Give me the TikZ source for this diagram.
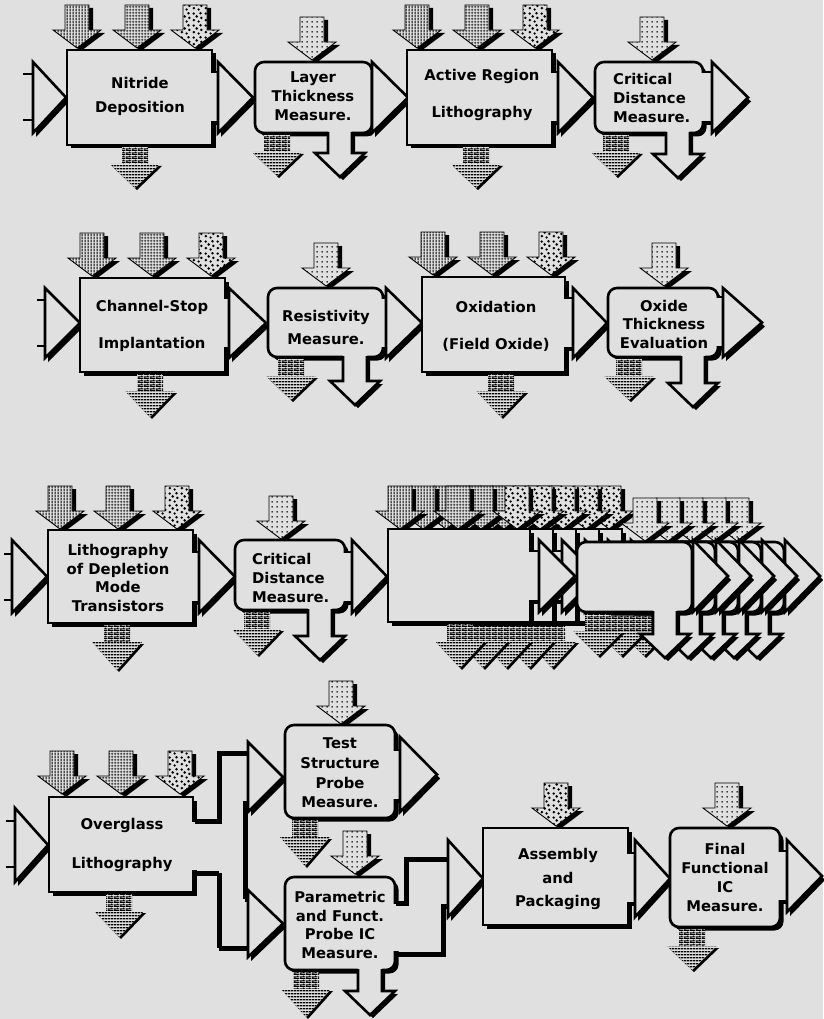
\documentclass[tikz,border=0pt]{standalone}
\usepackage{fontspec}
\newfontfamily\chic[BoldFont={DejaVu Sans Bold}]{DejaVu Sans}
\usetikzlibrary{patterns}
\definecolor{bgc}{RGB}{224,224,224}
\pgfdeclarepatternformonly{vl}{\pgfqpoint{0pt}{0pt}}{\pgfqpoint{3pt}{3pt}}{\pgfqpoint{3pt}{3pt}}{%
 \pgfsetlinewidth{1.4pt}\pgfpathmoveto{\pgfqpoint{1.5pt}{0pt}}\pgfpathlineto{\pgfqpoint{1.5pt}{3pt}}\pgfusepath{stroke}}
\pgfdeclarepatternformonly{gr}{\pgfqpoint{0pt}{0pt}}{\pgfqpoint{3pt}{3pt}}{\pgfqpoint{3pt}{3pt}}{%
 \pgfsetlinewidth{0.9pt}\pgfpathmoveto{\pgfqpoint{1.5pt}{0pt}}\pgfpathlineto{\pgfqpoint{1.5pt}{3pt}}%
 \pgfpathmoveto{\pgfqpoint{0pt}{1.5pt}}\pgfpathlineto{\pgfqpoint{3pt}{1.5pt}}\pgfusepath{stroke}}
\pgfdeclarepatternformonly{rd}{\pgfqpoint{0pt}{0pt}}{\pgfqpoint{12pt}{12pt}}{\pgfqpoint{12pt}{12pt}}{%
 \pgfpathcircle{\pgfqpoint{2pt}{3pt}}{1.5pt}\pgfpathcircle{\pgfqpoint{7pt}{1.6pt}}{1.4pt}%
 \pgfpathcircle{\pgfqpoint{5pt}{7pt}}{1.5pt}\pgfpathcircle{\pgfqpoint{10pt}{5.5pt}}{1.4pt}%
 \pgfpathcircle{\pgfqpoint{1.8pt}{10pt}}{1.4pt}\pgfpathcircle{\pgfqpoint{9pt}{10.4pt}}{1.5pt}\pgfusepath{fill}}
\pgfdeclarepatternformonly{sd}{\pgfqpoint{0pt}{0pt}}{\pgfqpoint{5pt}{5pt}}{\pgfqpoint{5pt}{5pt}}{%
 \pgfpathcircle{\pgfqpoint{2.5pt}{2.5pt}}{0.9pt}\pgfusepath{fill}}
\pgfdeclarepatternformonly{hl}{\pgfqpoint{0pt}{0pt}}{\pgfqpoint{3pt}{3pt}}{\pgfqpoint{3pt}{3pt}}{%
 \pgfsetlinewidth{1.7pt}\pgfpathmoveto{\pgfqpoint{0pt}{1.5pt}}\pgfpathlineto{\pgfqpoint{3pt}{1.5pt}}\pgfusepath{stroke}}
\pgfdeclarepatternformonly{sb}{\pgfqpoint{0pt}{0pt}}{\pgfqpoint{6pt}{4pt}}{\pgfqpoint{6pt}{4pt}}{%
 \pgfsetlinewidth{1.1pt}%
 \pgfpathmoveto{\pgfqpoint{0pt}{0.5pt}}\pgfpathlineto{\pgfqpoint{6pt}{0.5pt}}%
 \pgfpathmoveto{\pgfqpoint{0pt}{2.5pt}}\pgfpathlineto{\pgfqpoint{6pt}{2.5pt}}%
 \pgfpathmoveto{\pgfqpoint{1pt}{0.5pt}}\pgfpathlineto{\pgfqpoint{1pt}{2.5pt}}%
 \pgfpathmoveto{\pgfqpoint{4pt}{2.5pt}}\pgfpathlineto{\pgfqpoint{4pt}{4pt}}\pgfusepath{stroke}}
\tikzset{
 wall/.style={line width=2.8pt, line cap=rect},
 outl/.style={line width=2.6pt, line join=miter},
 lbl/.style={font={\chic\bfseries\fontsize{14.8}{#1}\selectfont}, align=center, inner sep=0pt},
 lblL/.style={lbl=#1, align=left, anchor=west}
}
% input arrow: cx, ytop, pattern
\newcommand{\InArr}[3]{%
\begin{scope}[shift={(#1,#2)}]
\fill[black] (-8,3) -- (16,3) -- (16,28) -- (28,28) -- (4,46) -- (-20,28) -- (-8,28) -- cycle;
\draw[line width=0.9pt, fill=bgc, postaction={pattern=#3}] (-12,0) -- (12,0) -- (12,25) -- (24,25) -- (0,43) -- (-24,25) -- (-12,25) -- cycle;
\end{scope}}
% waste arrow: cx, ytop, ytip
\newcommand{\WArr}[3]{%
\begin{scope}[shift={(#1,#2)}]
\pgfmathsetmacro\LL{#3-#2}
\fill[black] (-23,19) -- (27,19) -- (2,\LL+2) -- cycle;
\fill[bgc] (-13,0) rectangle (13,17);
\fill[pattern=sb] (-13,0) rectangle (13,17);
\fill[bgc] (-25,17) -- (25,17) -- (0,\LL) -- cycle;
\fill[pattern=hl] (-25,17) -- (25,17) -- (0,\LL) -- cycle;
\end{scope}}
% product arrow: cx, ybox, ytip
\newcommand{\OArr}[3]{%
\begin{scope}[shift={(#1,#2)}]
\pgfmathsetmacro\LL{#3-#2}
\fill[black] (-9,3) -- (-9,\LL-21) -- (-22,\LL-21) -- (3,\LL+3) -- (28,\LL-21) -- (15,\LL-21) -- (15,3) -- cycle;
\fill[bgc] (-12,-2) -- (-12,\LL-24) -- (-25,\LL-24) -- (0,\LL) -- (25,\LL-24) -- (12,\LL-24) -- (12,-2) -- cycle;
\draw[outl] (-12,-1) -- (-12,\LL-24) -- (-25,\LL-24) -- (0,\LL) -- (25,\LL-24) -- (12,\LL-24) -- (12,-1);
\end{scope}}
\newcommand{\PBox}[4]{%
\fill[black] (#1+3.5,#2+3.5) rectangle (#3+3.5,#4+3.5);
\filldraw[fill=bgc,outl] (#1,#2) rectangle (#3,#4);}
\newcommand{\MBox}[4]{%
\fill[black,rounded corners=9pt] (#1+3.5,#2+3.5) rectangle (#3+3.5,#4+3.5);
\filldraw[fill=bgc,outl,rounded corners=9pt] (#1,#2) rectangle (#3,#4);}
\newcommand{\Tri}[4]{%
\fill[black] (#1+3,#2+4) -- (#3+3,{(#2+#4)/2+4}) -- (#1+3,#4+4) -- cycle;
\filldraw[fill=bgc,outl] (#1,#2) -- (#3,{(#2+#4)/2}) -- (#1,#4) -- cycle;}
\newcommand{\Pipe}[3]{%
\fill[black] (#1,#3+25) rectangle (#2+1,#3+28);
\fill[bgc] (#1-2.5,#3-24) rectangle (#2+1.5,#3+24);
\draw[wall] (#1,#3-25) -- (#2,#3-25) (#1,#3+25) -- (#2,#3+25);}
\newcommand{\Stub}[3]{\draw[wall] (#1,#3-23) -- (#2,#3-23) (#1,#3+23) -- (#2,#3+23);}
\begin{document}
\begin{tikzpicture}[x=1pt,y=-1pt]
\fill[bgc] (0,0) rectangle (823,1019);
\useasboundingbox (0,0) rectangle (823,1019);

% ===== Row 1 =====
\Stub{24}{33}{97}
\Tri{33}{62}{66}{133}
\InArr{77}{5}{vl}\InArr{137}{5}{gr}\InArr{195}{5}{rd}
\PBox{67}{50}{212}{145}
\WArr{135}{147}{188}
\Pipe{212}{218}{97}
\Tri{218}{62}{253}{133}
\InArr{312}{17}{sd}
\MBox{255}{62}{372}{133}
\WArr{277}{135}{176}
\OArr{340}{133}{177}
\Tri{372}{62}{408}{133}
\InArr{417}{5}{vl}\InArr{477}{5}{gr}\InArr{535}{5}{rd}
\PBox{407}{50}{552}{145}
\WArr{476}{147}{188}
\Pipe{552}{558}{97}
\Tri{558}{62}{593}{133}
\InArr{652}{17}{sd}
\MBox{595}{62}{703}{133}
\WArr{616}{135}{176}
\OArr{678}{133}{178}
\Pipe{703}{712}{97}
\Tri{712}{62}{748}{133}
\node[lbl=24] (t1) at (140,96) {Nitride\\Deposition};
\node[lbl=19] (t2) at (313,96) {Layer\\Thickness\\Measure.};
\node[lbl=37] (t3) at (482,95) {Active Region\\Lithography};
\node[lblL=19] (t4) at (613,98) {Critical\\Distance\\Measure.};

% ===== Row 2 =====
\Stub{38}{45}{323}
\Tri{45}{288}{80}{358}
\InArr{92}{233}{vl}\InArr{152}{233}{gr}\InArr{211}{233}{rd}
\PBox{80}{278}{225}{372}
\WArr{150}{374}{417}
\Pipe{225}{229}{323}
\Tri{229}{288}{266}{358}
\InArr{326}{243}{sd}
\MBox{268}{288}{383}{357}
\WArr{291}{359}{400}
\OArr{355}{357}{405}
\Pipe{383}{386}{323}
\Tri{386}{288}{422}{358}
\InArr{433}{232}{vl}\InArr{492}{232}{gr}\InArr{551}{232}{rd}
\PBox{422}{277}{565}{372}
\WArr{501}{374}{417}
\Pipe{565}{573}{323}
\Tri{573}{288}{607}{358}
\InArr{664}{243}{sd}
\MBox{608}{288}{718}{357}
\WArr{629}{359}{400}
\OArr{693}{357}{407}
\Pipe{718}{723}{322}
\Tri{723}{288}{762}{357}
\node[lbl=37] (t5) at (152,326) {Channel-Stop\\Implantation};
\node[lbl=23] (t6) at (326,327) {Resistivity\\Measure.};
\node[lbl=37] (t7) at (496,326) {Oxidation\\(Field Oxide)};
\node[lbl=18.5] (t8) at (664,324) {Oxide\\Thickness\\Evaluation};

% ===== Row 3 =====
\Stub{5}{12}{577}
\Tri{12}{540}{47}{613}
\InArr{60}{486}{vl}\InArr{118}{486}{gr}\InArr{177}{486}{rd}
\PBox{48}{530}{193}{623}
\WArr{117}{625}{670}
\Pipe{193}{199}{577}
\Tri{199}{540}{235}{613}
\InArr{281}{496}{sd}
\MBox{235}{540}{345}{610}
\WArr{257}{612}{655}
\OArr{320}{610}{660}
\Pipe{345}{352}{577}
\Tri{352}{540}{387}{613}
\node[lbl=18.7] (t9) at (118,578) {Lithography\\of Depletion\\Mode\\Transistors};
\node[lblL=19] (t10) at (252,578) {Critical\\Distance\\Measure.};
\foreach \k in {4,3,2,1,0}{
\begin{scope}[shift={(23*\k,0)}]
\InArr{400}{486}{vl}\InArr{458}{486}{gr}\InArr{517}{486}{rd}
\PBox{388}{529}{530}{622}
\WArr{460}{624}{668}
\Pipe{530}{539}{576}
\Tri{539}{540}{575}{612}
\InArr{645}{498}{sd}
\MBox{577}{542}{692}{612}
\WArr{598}{614}{656}
\OArr{665}{612}{658}
\Tri{693}{540}{728}{612}
\end{scope}}

% ===== Row 4 =====
\Stub{7}{15}{844}
\Tri{15}{808}{48}{882}
\InArr{62}{751}{vl}\InArr{121}{751}{gr}\InArr{180}{751}{rd}
\PBox{49}{797}{193}{892}
\WArr{119}{894}{937}
\fill[bgc] (190,822) rectangle (199,870);
\begin{scope}[shift={(2.5,2.5)}]
\draw[wall] (194,820) -- (218,820) -- (218,752) -- (248,752);
\draw[wall] (248,802) -- (244,802) -- (244,898) -- (248,898);
\draw[wall] (194,872) -- (218,872) -- (218,947) -- (248,947);
\end{scope}
\draw[wall] (194,820) -- (218,820) -- (218,752) -- (248,752);
\draw[wall] (248,802) -- (244,802) -- (244,898) -- (248,898);
\draw[wall] (194,872) -- (218,872) -- (218,947) -- (248,947);
\Tri{248}{742}{283}{812}
\Tri{248}{890}{283}{957}
\InArr{341}{681}{sd}
\MBox{285}{725}{395}{818}
\WArr{305}{820}{866}
\Pipe{395}{400}{775}
\Tri{400}{737}{437}{812}
\InArr{355}{831}{sd}
\MBox{285}{877}{395}{970}
\WArr{306}{972}{1017}
\OArr{370}{970}{1015}
\fill[bgc] (392,904) rectangle (401,951);
\begin{scope}[shift={(2.5,2.5)}]
\draw[wall] (395,902) -- (405,902) -- (405,858) -- (448,858);
\draw[wall] (395,953) -- (442,953) -- (442,905) -- (448,905);
\end{scope}
\draw[wall] (395,902) -- (405,902) -- (405,858) -- (448,858);
\draw[wall] (395,953) -- (442,953) -- (442,905) -- (448,905);
\Tri{448}{840}{483}{917}
\InArr{556}{783}{rd}
\PBox{483}{828}{628}{925}
\Pipe{628}{635}{878}
\Tri{635}{840}{670}{917}
\InArr{727}{783}{sd}
\MBox{670}{828}{780}{927}
\WArr{692}{929}{970}
\Pipe{780}{787}{876}
\Tri{787}{840}{822}{912}
\node[lbl=39] (t11) at (122,845) {Overglass\\Lithography};
\node[lbl=19.7] (t12) at (340,773) {Test\\Structure\\Probe\\Measure.};
\node[lbl=18.7] (t13) at (340,925) {Parametric\\and Funct.\\Probe IC\\Measure.};
\node[lbl=23.5] (t14) at (558,879) {Assembly\\and\\Packaging};
\node[lbl=19] (t15) at (725,877) {Final\\Functional\\IC\\Measure.};
\end{tikzpicture}
\end{document}
